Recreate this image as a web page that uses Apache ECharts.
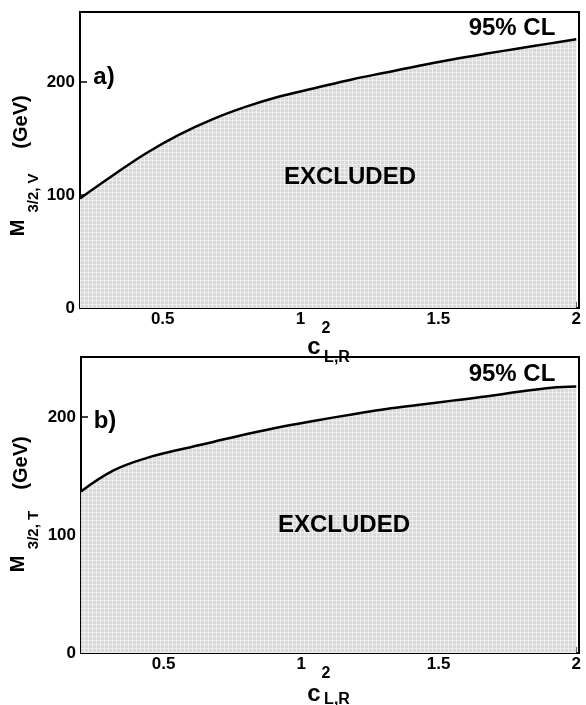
<!DOCTYPE html>
<html>
<head>
<meta charset="utf-8">
<script src="https://cdn.jsdelivr.net/npm/echarts@6/dist/echarts.min.js"></script>
<style>
html,body{margin:0;padding:0;background:#fff;}
#chart{width:586px;height:705px;}
</style>
</head>
<body>
<div id="chart"></div>
<script>
// ---- data ----
var xTickValues = [0.5, 1, 1.5, 2];
var yTickValues = [0, 100, 200];

// panel a) : M_{3/2,V} limit vs c^2_{L,R}
var cA = [0.2, 0.32, 0.44, 0.56, 0.68, 0.8, 0.92, 1.05, 1.19, 1.31, 1.43, 1.55, 1.67, 1.79, 1.9, 2.0];
var mA = [97, 117.5, 137, 153.5, 167, 178, 187, 194.5, 202.5, 208.5, 214.5, 220, 225, 229.7, 234, 237.8];

// panel b) : M_{3/2,T} limit vs c^2_{L,R}
var cB = [0.2, 0.32, 0.44, 0.56, 0.68, 0.8, 0.92, 1.05, 1.19, 1.31, 1.43, 1.55, 1.67, 1.79, 1.91, 2.0];
var mB = [137, 155, 165.5, 172.5, 179, 185.5, 191.5, 197, 202.5, 207, 210.5, 214, 217.5, 221.5, 225, 226];

function pairs(xs, ys) { return xs.map(function (x, i) { return [x, ys[i]]; }); }

// fine grid fill pattern
var pc = document.createElement('canvas');
pc.width = 4; pc.height = 4;
var g = pc.getContext('2d');
g.fillStyle = '#d9d9d9'; g.fillRect(0, 0, 4, 4);
g.fillStyle = '#eeeeee'; g.fillRect(0, 0, 4, 1); g.fillRect(0, 0, 1, 4);
var pattern = { image: pc, repeat: 'repeat' };

var FONT = "'Liberation Sans', Arial, Helvetica, sans-serif";

function xAxisDef(idx) {
  return {
    type: 'value', gridIndex: idx, min: 0.2, max: 2.01,
    axisLine: { show: true, onZero: false, lineStyle: { color: '#000', width: 2 } },
    axisTick: { show: true, inside: true, length: 6, customValues: xTickValues, lineStyle: { color: '#000', width: 1.5 } },
    axisLabel: { show: true, customValues: xTickValues, margin: 3, color: '#000', fontSize: 17, fontWeight: 'bold', fontFamily: FONT,
      formatter: function (v) { return String(v); } },
    splitLine: { show: false }
  };
}
function yAxisDef(idx, max) {
  return {
    type: 'value', gridIndex: idx, min: 0, max: max,
    axisLine: { show: true, lineStyle: { color: '#000', width: 2 } },
    axisTick: { show: true, inside: true, length: 7, customValues: yTickValues, lineStyle: { color: '#000', width: 1.5 } },
    axisLabel: { show: true, customValues: yTickValues, margin: 5, color: '#000', fontSize: 17, fontWeight: 'bold', fontFamily: FONT },
    splitLine: { show: false }
  };
}
function seriesDef(idx, data) {
  return {
    type: 'line', xAxisIndex: idx, yAxisIndex: idx, data: data,
    smooth: 0.4, showSymbol: false, symbol: 'none', silent: true,
    lineStyle: { color: '#000', width: 2.5 },
    areaStyle: { color: pattern, opacity: 1 }
  };
}
function txt(x, y, s, size, rot) {
  return { type: 'text', x: x, y: y, rotation: rot || 0, silent: true, z: 100, zlevel: 0,
    style: { text: s, fill: '#000', font: 'bold ' + size + 'px ' + FONT, textAlign: 'center', textVerticalAlign: 'middle' } };
}

var chart = echarts.init(document.getElementById('chart'), null, { renderer: 'canvas' });
chart.setOption({
  animation: false,
  backgroundColor: '#fff',
  grid: [
    { left: 80, top: 12, width: 499, height: 296, show: true, borderColor: '#000', borderWidth: 2, backgroundColor: 'transparent' },
    { left: 81, top: 357, width: 498, height: 296, show: true, borderColor: '#000', borderWidth: 2, backgroundColor: 'transparent' }
  ],
  xAxis: [xAxisDef(0), xAxisDef(1)],
  yAxis: [yAxisDef(0, 262), yAxisDef(1, 251)],
  series: [seriesDef(0, pairs(cA, mA)), seriesDef(1, pairs(cB, mB))],
  graphic: { elements: [
    txt(512, 28, '95% CL', 24),
    txt(350, 177, 'EXCLUDED', 24),
    txt(104, 77, 'a)', 24),
    txt(18, 228, 'M', 20, Math.PI / 2),
    txt(34, 193, '3/2, V', 15, Math.PI / 2),
    txt(21, 122, '(GeV)', 20, Math.PI / 2),
    txt(314, 347, 'c', 24),
    txt(326, 329, '2', 16),
    txt(337, 358, 'L,R', 16),

    txt(512, 374, '95% CL', 24),
    txt(344, 525, 'EXCLUDED', 24),
    txt(105, 421, 'b)', 24),
    txt(18, 564, 'M', 20, Math.PI / 2),
    txt(34, 530, '3/2, T', 15, Math.PI / 2),
    txt(21, 463, '(GeV)', 20, Math.PI / 2),
    txt(314, 694, 'c', 24),
    txt(326, 674, '2', 16),
    txt(337, 700, 'L,R', 16)
  ] }
});
</script>
</body>
</html>
